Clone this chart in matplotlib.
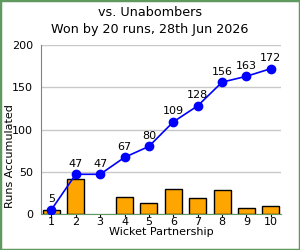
import matplotlib.pyplot as plt
import numpy as np
from matplotlib.patches import Rectangle

# Daten
wickets = [1, 2, 3, 4, 5, 6, 7, 8, 9, 10]
partnership = [5, 42, 0, 20, 13, 29, 19, 28, 7, 9]
accumulated = [5, 47, 47, 67, 80, 109, 128, 156, 163, 172]
title_lines = ["vs. Unabombers", "Won by 20 runs, 28th Jun 2026"]

green = '#609a60'

fig = plt.figure(figsize=(3, 2.5), dpi=100)
ax = fig.add_axes([0.137, 0.144, 0.800, 0.676])

bars = ax.bar(wickets, partnership, width=0.7, color='orange', edgecolor='black',
              linewidth=1, zorder=2)
# keine Linie fuer leere Partnerschaften
for b in bars:
    if b.get_height() == 0:
        b.set_visible(False)

ax.plot(wickets, accumulated, color='blue', marker='o', markersize=6,
        linewidth=1.2, zorder=3)

for x, y in zip(wickets, accumulated):
    ax.annotate(str(y), (x, y), xytext=(0, 4), textcoords='offset points',
                ha='center', va='bottom', fontsize=8, zorder=4)

ax.set_xlim(0.58, 10.42)
ax.set_ylim(0, 200)
ax.set_xticks(wickets)
ax.set_yticks([0, 50, 100, 150, 200])
ax.tick_params(axis='both', labelsize=8, length=2, pad=0.5, colors='black')
ax.tick_params(axis='y', length=0, pad=6)
ax.grid(axis='y', color='#c8c8c8', linewidth=1, zorder=0)

for spine in ax.spines.values():
    spine.set_visible(False)
ax.spines['left'].set_visible(True)
ax.spines['bottom'].set_visible(True)
ax.spines['left'].set_color(green)
ax.spines['bottom'].set_color(green)

ax.set_xlabel('Wicket Partnership', fontsize=8, labelpad=0)
ax.set_ylabel('Runs Accumulated', fontsize=8)
ax.yaxis.set_label_coords(-0.108, 0.34)

fig.text(0.5, 0.952, title_lines[0], ha='center', va='center', fontsize=9.2)
fig.text(0.5, 0.884, title_lines[1], ha='center', va='center', fontsize=9.2)

fig.patches.append(Rectangle((0, 0), 1, 1, transform=fig.transFigure,
                             fill=False, edgecolor=green, linewidth=2.5))

plt.savefig('out.png', dpi=100)
